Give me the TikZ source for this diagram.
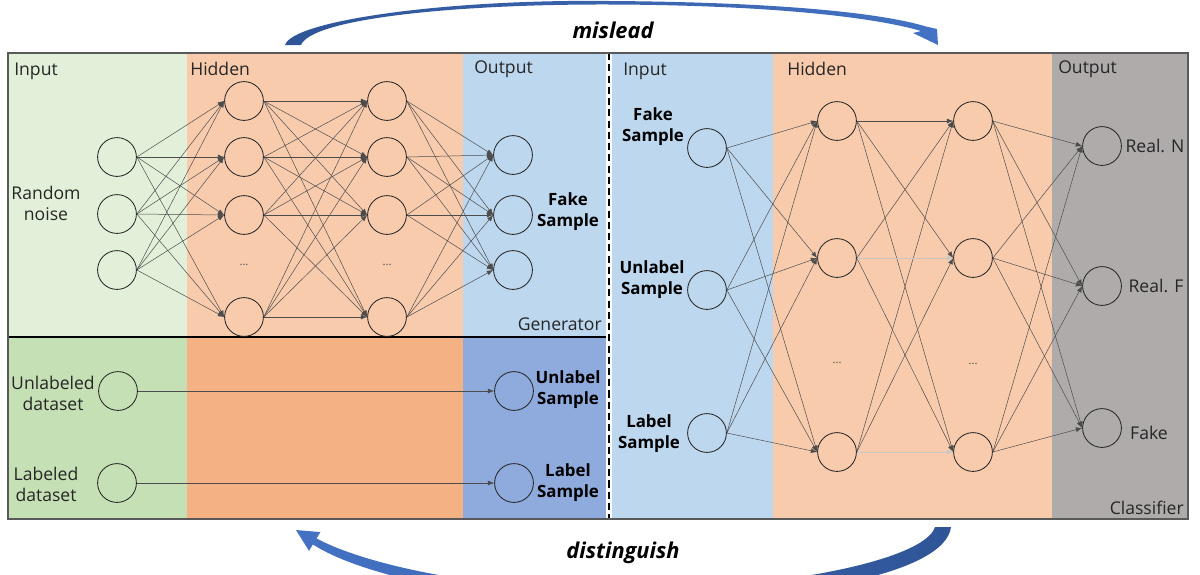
\documentclass[tikz,border=0pt]{standalone}
\usepackage{fontspec}
\setmainfont{Open Sans}
\usetikzlibrary{arrows.meta}

\definecolor{inGreen}{HTML}{E2F0D9}
\definecolor{hidOrange}{HTML}{F8CBAD}
\definecolor{outBlue}{HTML}{BDD7EE}
\definecolor{dataGreen}{HTML}{C5E0B4}
\definecolor{dataOrange}{HTML}{F4B183}
\definecolor{dataBlue}{HTML}{8FAADC}
\definecolor{clsGray}{HTML}{AFABAB}
\definecolor{arrowDark}{HTML}{2F5597}
\definecolor{arrowLight}{HTML}{4472C4}

\begin{document}
\begin{tikzpicture}[x=0.025cm,y=-0.025cm,
  neuron/.style={circle,draw=black!85,line width=0.6pt,minimum size=0.97cm,inner sep=0pt},
  conn/.style={draw=black!70,line width=0.35pt,-{Latex[length=4.5pt,width=3.5pt]}},
  paleconn/.style={conn,draw=black!22},
  lbl/.style={font=\fontsize{12.5}{15}\selectfont,text=black!85,inner sep=0pt},
  boldlbl/.style={font=\fontsize{12}{15}\selectfont\bfseries,align=center,inner sep=0pt},
  side/.style={font=\fontsize{12.5}{15}\selectfont,text=black!85,align=center,inner sep=0pt},
  dots/.style={font=\fontsize{8}{8}\selectfont,text=black!70,inner sep=0pt},
  slogan/.style={font=\fontsize{15.5}{18}\selectfont\bfseries\itshape,inner sep=0pt},
]
\useasboundingbox (0,0) rectangle (1200,574);
\clip (0,0) rectangle (1200,574);

% ---------- background panels ----------
% generator (top left)
\fill[inGreen]   (8,53)   rectangle (187,337);
\fill[hidOrange] (187,53) rectangle (463,337);
\fill[outBlue]   (463,53) rectangle (606,337);
% real data (bottom left)
\fill[dataGreen]  (8,337)   rectangle (187,519);
\fill[dataOrange] (187,337) rectangle (463,519);
\fill[dataBlue]   (463,337) rectangle (606,519);
% classifier (right)
\fill[outBlue]   (612,53)  rectangle (773,519);
\fill[hidOrange] (773,53)  rectangle (1052,519);
\fill[clsGray]   (1052,53) rectangle (1188,519);

% dividers and frame
\draw[black,line width=1pt] (8,337) -- (606,337);
\fill[white] (606,53) rectangle (612,519);
\draw[black,line width=0.8pt,dash pattern=on 5pt off 3pt] (609,53) -- (609,519);
\draw[black!65,line width=0.8pt] (8,53) rectangle (1188,519);

% ---------- panel titles ----------
\node[lbl,anchor=west] at (14,71) {Input};
\node[lbl,anchor=west] at (190,69) {Hidden};
\node[lbl,anchor=west] at (474,69) {Output};
\node[lbl,anchor=east] at (602,324) {Generator};
\node[lbl,anchor=west] at (623,71) {Input};
\node[lbl,anchor=west] at (787,69) {Hidden};
\node[lbl,anchor=west] at (1058,69) {Output};
\node[lbl,anchor=east] at (1184,508) {Classifier};

% ---------- generator network ----------
\foreach \i/\y in {1/157,2/214,3/270} \node[neuron] (gi\i) at (117,\y) {};
\foreach \i/\y in {1/101,2/157,3/215,4/317} \node[neuron] (gh\i) at (244,\y) {};
\foreach \i/\y in {1/101,2/157,3/215,4/317} \node[neuron] (gk\i) at (387,\y) {};
\foreach \i/\y in {1/155,2/215,3/270} \node[neuron] (go\i) at (513,\y) {};
\node[dots] (gdots1) at (244,265) {...};
\node[dots] (gdots2) at (387,265) {...};

\foreach \i in {1,2,3} \foreach \j in {1,2,3,4} \draw[conn] (gi\i.east) -- (gh\j.west);
\foreach \i in {1,2,3,4} \foreach \j in {1,2,3,4} \draw[conn] (gh\i.east) -- (gk\j.west);
\foreach \i in {1,2,3,4} \foreach \j in {1,2,3} \draw[conn] (gk\i.east) -- (go\j.west);

\node[side] (noise) at (46,203) {Random\\noise};
\node[boldlbl] (fakeG) at (568,212) {Fake\\Sample};

% ---------- real data ----------
\node[neuron] (du) at (118,391) {};
\node[neuron] (dl) at (117,483) {};
\node[neuron] (su) at (514,391) {};
\node[neuron] (sl) at (514,483) {};
\draw[conn] (du.east) -- (su.west);
\draw[conn] (dl.east) -- (sl.west);
\node[side] (udata) at (53,393) {Unlabeled\\dataset};
\node[side] (ldata) at (46,484) {Labeled\\dataset};
\node[boldlbl] (usamp) at (568,390) {Unlabel\\Sample};
\node[boldlbl] (lsamp) at (568,483) {Label\\Sample};

% ---------- classifier network ----------
\foreach \i/\y in {1/148,2/290,3/433} \node[neuron] (ci\i) at (707,\y) {};
\foreach \i/\y in {1/121,2/258,3/452} \node[neuron] (ch\i) at (837,\y) {};
\foreach \i/\y in {1/121,2/258,3/452} \node[neuron] (ck\i) at (973,\y) {};
\foreach \i/\y in {1/146,2/286,3/428} \node[neuron] (co\i) at (1102,\y) {};
\node[dots] (cdots1) at (837,363) {...};
\node[dots] (cdots2) at (973,364) {...};

\foreach \i in {1,2,3} \foreach \j in {1,2,3} \draw[conn] (ci\i.east) -- (ch\j.west);
\foreach \i/\j in {1/1,1/2,1/3,2/1,2/3,3/1,3/2} \draw[conn] (ch\i.east) -- (ck\j.west);
\draw[paleconn] (ch2.east) -- (ck2.west);
\draw[paleconn] (ch3.east) -- (ck3.west);
\foreach \i in {1,2,3} \foreach \j in {1,2,3} \draw[conn] (ck\i.east) -- (co\j.west);

\node[boldlbl] (fakeC) at (653,127) {Fake\\Sample};
\node[boldlbl] (unlC) at (652,280) {Unlabel\\Sample};
\node[boldlbl] (labC) at (649,434) {Label\\Sample};
\node[lbl] (realN) at (1155,146) {Real. N};
\node[lbl] (realF) at (1156,286) {Real. F};
\node[lbl] (fakeO) at (1149,433) {Fake};

% ---------- curved arrows between the two halves ----------
\shade[left color=arrowDark,right color=arrowLight]
  (285,45) .. controls (293,20) and (450,-1) .. (610,1)
  .. controls (760,2) and (875,11) .. (926,26.5)
  -- (937,29) -- (938,45) -- (913,33) -- (921,31)
  .. controls (870,16) and (760,5) .. (610,4.5)
  .. controls (460,4) and (312,18) .. (301,45) -- cycle;
\node[slogan] (mislead) at (613,30) {mislead};

\shade[left color=arrowLight,right color=arrowDark]
  (951,527) .. controls (945,575) and (790,602) .. (620,602)
  .. controls (470,602) and (355,572) .. (312.9,544.4)
  -- (309,550.8) -- (296,530) -- (320.4,532.1) -- (316.5,538.4)
  .. controls (360,562) and (470,590) .. (620,590)
  .. controls (780,590) and (925,560) .. (935,527) -- cycle;
\node[slogan] (distinguish) at (623,553) {distinguish};
\end{tikzpicture}
\end{document}
